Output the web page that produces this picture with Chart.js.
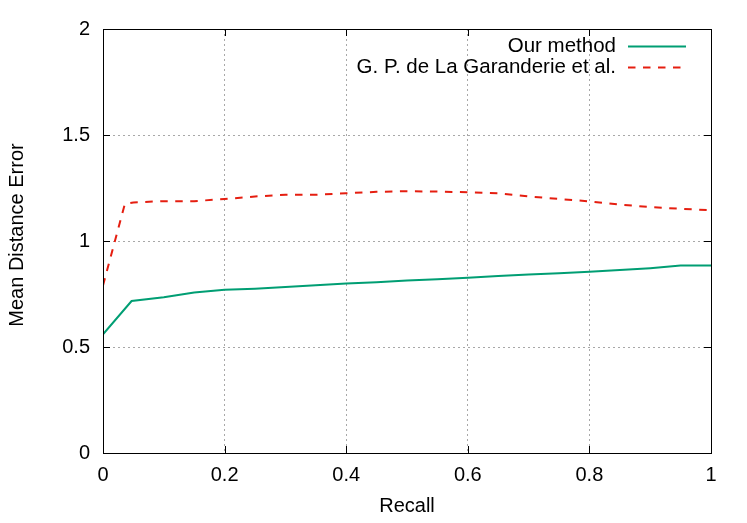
<!DOCTYPE html>
<html><head><meta charset="utf-8">
<script src="https://cdn.jsdelivr.net/npm/chart.js@4"></script>
<style>html,body{margin:0;padding:0;background:#fff}</style>
</head><body>
<canvas id="c" width="747" height="523"></canvas>
<script>
const seriesNames = ['Our method', 'G. P. de La Garanderie et al.'];
const recallOurs = [0, 0.047, 0.1, 0.15, 0.2, 0.25, 0.3, 0.35, 0.4, 0.45, 0.5, 0.55, 0.6, 0.65, 0.7, 0.75, 0.8, 0.85, 0.9, 0.95, 1.0];
const errorOurs  = [0.56, 0.717, 0.735, 0.757, 0.77, 0.775, 0.783, 0.791, 0.799, 0.805, 0.814, 0.82, 0.827, 0.835, 0.842, 0.848, 0.855, 0.863, 0.872, 0.884, 0.884];
const recallGPL = [0, 0.036, 0.05, 0.1, 0.15, 0.2, 0.25, 0.3, 0.35, 0.4, 0.45, 0.5, 0.55, 0.6, 0.65, 0.7, 0.75, 0.8, 0.85, 0.9, 0.95, 1.0];
const errorGPL  = [0.79, 1.175, 1.182, 1.188, 1.188, 1.198, 1.21, 1.218, 1.218, 1.225, 1.232, 1.235, 1.233, 1.23, 1.225, 1.21, 1.198, 1.187, 1.172, 1.16, 1.152, 1.145];
const xTicks = [0, 0.2, 0.4, 0.6, 0.8, 1];
const yTicks = [0, 0.5, 1, 1.5, 2];
const xTitle = 'Recall';
const yTitle = 'Mean Distance Error';

const FONT = 'Liberation Sans';
const GREEN = '#009e73';
const RED = '#e51e10';

const toPts = (xs, ys) => xs.map((x, i) => ({x: x, y: ys[i]}));

const framePlugin = {
  id: 'frame',
  afterDatasetsDraw(chart) {
    const ctx = chart.ctx, a = chart.chartArea;
    const xs = chart.scales.x, ys = chart.scales.y;
    ctx.save();
    ctx.strokeStyle = '#000';
    ctx.lineWidth = 1;
    ctx.setLineDash([]);
    ctx.beginPath();
    const L = 7;
    xTicks.forEach(v => {
      const px = Math.round(xs.getPixelForValue(v)) + 0.5;
      ctx.moveTo(px, a.bottom); ctx.lineTo(px, a.bottom - L);
      ctx.moveTo(px, a.top); ctx.lineTo(px, a.top + L);
    });
    yTicks.forEach(v => {
      const py = Math.round(ys.getPixelForValue(v)) + 0.5;
      ctx.moveTo(a.left, py); ctx.lineTo(a.left + L, py);
      ctx.moveTo(a.right, py); ctx.lineTo(a.right - L, py);
    });
    ctx.stroke();
    ctx.strokeRect(Math.round(a.left) + 0.5, Math.round(a.top) + 0.5, Math.round(a.right - a.left), Math.round(a.bottom - a.top));

    // y-axis title
    ctx.fillStyle = '#000';
    ctx.font = '20px "' + FONT + '"';
    ctx.save();
    ctx.translate(17, 235);
    ctx.rotate(-Math.PI / 2);
    ctx.textAlign = 'center';
    ctx.textBaseline = 'middle';
    ctx.fillText(yTitle, 0, 0);
    ctx.restore();

    // legend
    ctx.font = '20.5px "' + FONT + '"';
    ctx.textAlign = 'right';
    ctx.textBaseline = 'middle';
    chart.data.datasets.forEach((ds, i) => {
      const y = 46 + i * 21;
      ctx.fillText(ds.label, 616, y);
      ctx.strokeStyle = ds.borderColor;
      ctx.lineWidth = 2;
      ctx.setLineDash(ds.borderDash || []);
      ctx.beginPath();
      ctx.moveTo(628, y + 0.5); ctx.lineTo(686, y + 0.5);
      ctx.stroke();
    });
    ctx.restore();
  }
};

new Chart(document.getElementById('c'), {
  type: 'line',
  data: {
    datasets: [
      {label: seriesNames[0], data: toPts(recallOurs, errorOurs), borderColor: GREEN, borderWidth: 2, pointRadius: 0, tension: 0, fill: false},
      {label: seriesNames[1], data: toPts(recallGPL, errorGPL), borderColor: RED, borderWidth: 2, borderDash: [7.5, 7.5], pointRadius: 0, tension: 0, fill: false}
    ]
  },
  options: {
    responsive: false,
    animation: false,
    devicePixelRatio: 1,
    layout: {padding: {left: 0, right: 36, top: 29, bottom: 0}},
    plugins: {legend: {display: false}, tooltip: {enabled: false}},
    scales: {
      x: {
        type: 'linear', min: 0, max: 1,
        afterBuildTicks: s => { s.ticks = xTicks.map(v => ({value: v})); },
        afterFit: s => { s.height = 70; },
        grid: {color: '#a8a8a8', lineWidth: 1, drawTicks: false},
        border: {display: false, dash: [2, 3]},
        ticks: {color: '#000', font: {family: FONT, size: 20}, padding: 10, maxRotation: 0, callback: v => String(v)},
        title: {display: true, text: xTitle, color: '#000', font: {family: FONT, size: 20}, padding: {top: 0, bottom: 5}}
      },
      y: {
        type: 'linear', min: 0, max: 2,
        afterBuildTicks: s => { s.ticks = yTicks.map(v => ({value: v})); },
        afterFit: s => { s.width = 103; },
        grid: {color: '#a8a8a8', lineWidth: 1, drawTicks: false},
        border: {display: false, dash: [2, 3]},
        ticks: {color: '#000', font: {family: FONT, size: 20}, padding: 13, callback: v => String(v)},
        title: {display: false}
      }
    }
  },
  plugins: [framePlugin]
});
</script>
</body></html>
